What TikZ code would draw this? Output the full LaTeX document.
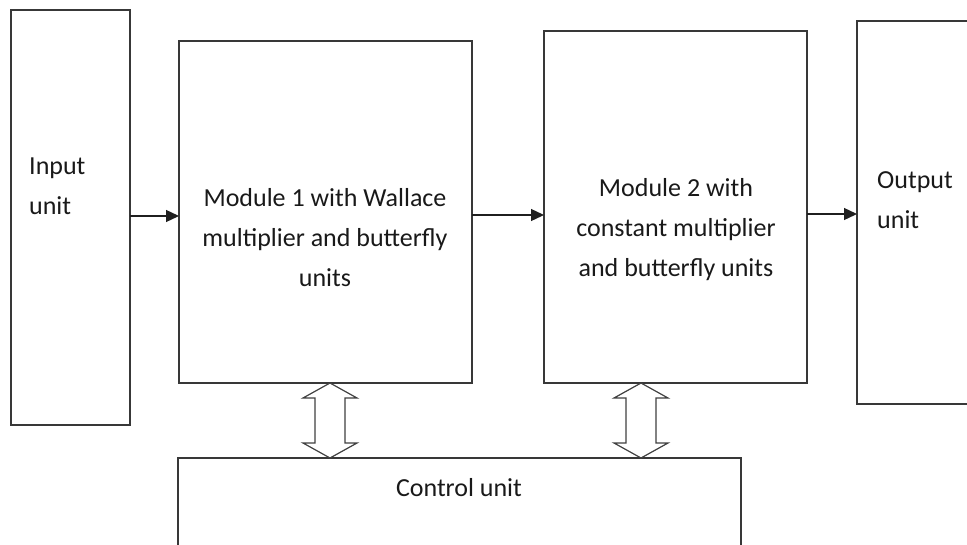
\documentclass[tikz,border=0pt]{standalone}
\usepackage{fontspec}
\setmainfont{Carlito}
\usetikzlibrary{arrows.meta}
\begin{document}
\begin{tikzpicture}[x=1pt,y=-1pt,
  blk/.style={draw=black!78, line width=1.7pt, inner sep=0pt, outer sep=0pt, anchor=north west},
  lbl/.style={font=\fontsize{26}{40}\selectfont, inner sep=0pt, align=center, text=black!90},
  flow/.style={draw=black!88, line width=1.3pt, -{Triangle[length=13pt,width=12pt]}},
  dbl/.style={draw=black!75, line width=1.2pt, fill=white, line join=miter}]
\useasboundingbox (0,0) rectangle (967,544);
\clip (0,0) rectangle (967,544);
% boxes
\node[blk, minimum width=119pt, minimum height=415pt] (in) at (11,10) {};
\node[blk, minimum width=293pt, minimum height=342pt] (m1) at (179,41) {};
\node[blk, minimum width=263pt, minimum height=352pt] (m2) at (544,31) {};
\node[blk, minimum width=150pt, minimum height=383pt] (out) at (857,21) {};
\node[blk, minimum width=563pt, minimum height=120pt] (cu) at (178,458) {};
% texts
\node[lbl, align=left, anchor=north west] (ti) at (29,158) {Input\\unit};
\node[lbl, anchor=north] (t1) at (325,188) {Module 1 with Wallace\\multiplier and butterfly\\units};
\node[lbl, anchor=north] (t2) at (676,178) {Module 2 with\\constant multiplier\\and butterfly units};
\node[lbl, align=left, anchor=north west] (to) at (877,171) {Output\\unit};
\node[lbl, anchor=north] (tc) at (459,478) {Control unit};
% flow arrows
\coordinate (y1) at (0,216);
\coordinate (y2) at (0,215);
\coordinate (y3) at (0,214);
\draw[flow] (in.east |- y1) -- (m1.west |- y1);
\draw[flow] (m1.east |- y2) -- (m2.west |- y2);
\draw[flow] (m2.east |- y3) -- (out.west |- y3);
% double arrows
\coordinate (x1) at (330,0);
\coordinate (x2) at (641,0);
\foreach \c/\m in {x1/m1, x2/m2}{
  \draw[dbl] (\c |- \m.south) -- ++(27,15) -- ++(-12,0) -- ++(0,45) -- ++(12,0)
    -- (\c |- cu.north) -- ++(-27,-15) -- ++(12,0) -- ++(0,-45) -- ++(-12,0) -- cycle;
}
\end{tikzpicture}
\end{document}
